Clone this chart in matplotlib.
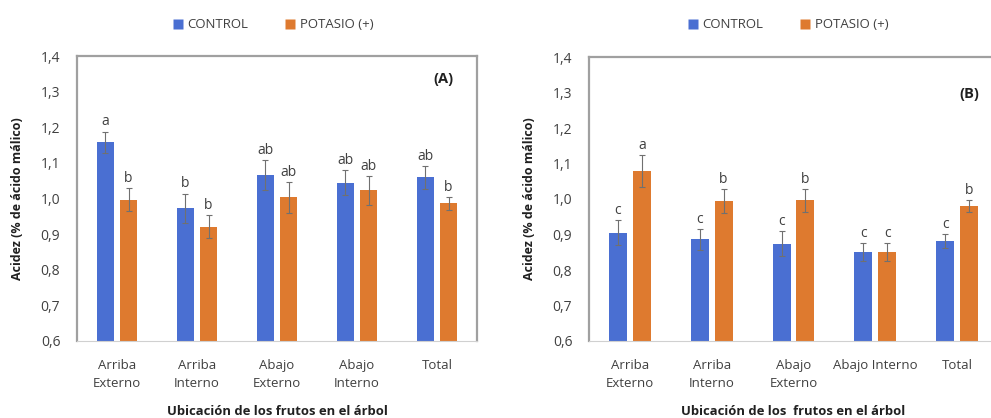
import numpy as np
import matplotlib
matplotlib.use('Agg')
import matplotlib.pyplot as plt
from matplotlib.lines import Line2D

plt.rcParams['font.family'] = ['Open Sans', 'DejaVu Sans']

# Data
categorias_a = ['Arriba\nExterno', 'Arriba\nInterno', 'Abajo\nExterno', 'Abajo\nInterno', 'Total']
categorias_b = ['Arriba\nExterno', 'Arriba\nInterno', 'Abajo\nExterno', 'Abajo Interno', 'Total']

control_a = [1.158, 0.972, 1.065, 1.044, 1.059]
control_a_err = [0.030, 0.042, 0.042, 0.035, 0.031]
potasio_a = [0.997, 0.921, 1.003, 1.023, 0.986]
potasio_a_err = [0.033, 0.033, 0.044, 0.040, 0.019]
letras_control_a = ['a', 'b', 'ab', 'ab', 'ab']
letras_potasio_a = ['b', 'b', 'ab', 'ab', 'b']

control_b = [0.905, 0.886, 0.874, 0.851, 0.882]
control_b_err = [0.035, 0.030, 0.035, 0.026, 0.019]
potasio_b = [1.079, 0.995, 0.996, 0.851, 0.980]
potasio_b_err = [0.044, 0.034, 0.033, 0.026, 0.018]
letras_control_b = ['c', 'c', 'c', 'c', 'c']
letras_potasio_b = ['a', 'b', 'b', 'c', 'b']

yticks = [0.6, 0.7, 0.8, 0.9, 1.0, 1.1, 1.2, 1.3, 1.4]

azul = '#4a6fd2'
naranja = '#de7a2f'
gris_texto = '#404040'


def panel(ax, cats, ctrl, ctrl_err, pot, pot_err, l_ctrl, l_pot, etiqueta, etq_pos, xlabel):
    x = np.arange(len(cats))
    w = 0.22
    off = 0.145
    ax.bar(x - off, ctrl, w, color=azul, zorder=2)
    ax.bar(x + off, pot, w, color=naranja, zorder=2)
    ax.errorbar(x - off, ctrl, yerr=ctrl_err, fmt='none', ecolor='#707070',
                elinewidth=0.8, capsize=2, capthick=0.8, zorder=3)
    ax.errorbar(x + off, pot, yerr=pot_err, fmt='none', ecolor='#707070',
                elinewidth=0.8, capsize=2, capthick=0.8, zorder=3)
    for i in range(len(cats)):
        ax.text(x[i] - off, ctrl[i] + ctrl_err[i] + 0.006, l_ctrl[i], ha='center',
                va='bottom', fontsize=10, color=gris_texto)
        ax.text(x[i] + off, pot[i] + pot_err[i] + 0.006, l_pot[i], ha='center',
                va='bottom', fontsize=10, color=gris_texto)
    ax.set_ylim(0.6, 1.4)
    ax.set_xlim(-0.5, len(cats) - 0.5)
    ax.set_yticks(yticks)
    ax.set_yticklabels([f'{v:.1f}'.replace('.', ',') for v in yticks], fontsize=10)
    ax.set_xticks(x)
    ax.set_xticklabels(cats, fontsize=9.5, linespacing=1.45)
    ax.tick_params(length=0, colors=gris_texto)
    ax.tick_params(axis='x', pad=13)
    ax.tick_params(axis='y', pad=12)
    for s in ['left', 'top', 'right']:
        ax.spines[s].set_color('#a0a0a0')
        ax.spines[s].set_linewidth(1.6)
    ax.spines['bottom'].set_color('#d0d0d0')
    ax.spines['bottom'].set_linewidth(0.8)
    ax.set_ylabel('Acidez (% de ácido málico)', fontsize=9, fontweight='bold',
                  color='#202020', labelpad=12)
    ax.set_xlabel(xlabel, fontsize=9.4, fontweight='bold', color='#202020', labelpad=11)
    ax.text(etq_pos[0], etq_pos[1], etiqueta, transform=ax.transAxes, fontsize=10.5,
            fontweight='bold', ha='right', va='center', color='#202020')


fig = plt.figure(figsize=(9.91, 4.18), dpi=100)
ax1 = fig.add_axes([77 / 991, 1 - 341 / 418, 400 / 991, 285 / 418])
ax2 = fig.add_axes([589 / 991, 1 - 341 / 418, 409 / 991, 284 / 418])

panel(ax1, categorias_a, control_a, control_a_err, potasio_a, potasio_a_err,
      letras_control_a, letras_potasio_a, '(A)', (0.94, 0.92),
      'Ubicación de los frutos en el árbol')
panel(ax2, categorias_b, control_b, control_b_err, potasio_b, potasio_b_err,
      letras_control_b, letras_potasio_b, '(B)', (0.955, 0.87),
      'Ubicación de los  frutos en el árbol')

handles = [Line2D([], [], marker='s', color='none', markerfacecolor=azul, markeredgecolor='none',
                  markersize=7, label='CONTROL'),
           Line2D([], [], marker='s', color='none', markerfacecolor=naranja, markeredgecolor='none',
                  markersize=7, label='POTASIO (+)')]
for ax, cx in [(ax1, 273 / 991), (ax2, 788 / 991)]:
    fig.legend(handles=handles, loc='center', bbox_to_anchor=(cx, 1 - 25 / 418), ncol=2,
               frameon=False, fontsize=9.5, handlelength=0.8, handletextpad=0.3,
               columnspacing=2.8, labelcolor=gris_texto)

fig.savefig('out.png', dpi=100)
